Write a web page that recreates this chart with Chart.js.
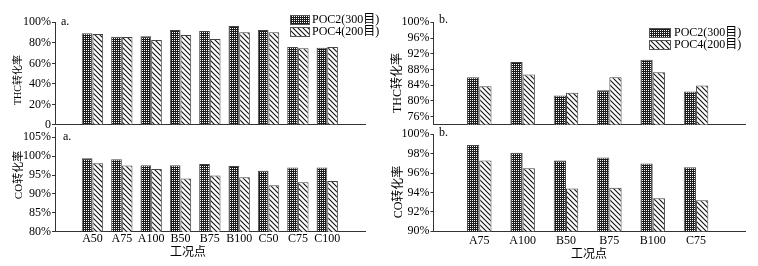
<!DOCTYPE html>
<html><head><meta charset="utf-8">
<script src="https://cdn.jsdelivr.net/npm/chart.js@4/dist/chart.umd.min.js"></script>
<style>
html,body{margin:0;padding:0;background:#fff;}
#wrap{position:relative;width:758px;height:266px;overflow:hidden;background:#fff;}
canvas{position:absolute;top:0;}
</style></head><body>
<div id="wrap">
<canvas id="c1" style="left:0"></canvas>
<canvas id="c2" style="left:0"></canvas>
<canvas id="c3" style="left:380px"></canvas>
<canvas id="c4" style="left:380px"></canvas>
</div>
<script>
// ---- data ----
const seriesNames = ['POC2(300目)', 'POC4(200目)'];
const catsA = ['A50','A75','A100','B50','B75','B100','C50','C75','C100'];
const thcA_poc2 = [89.3, 86.0, 86.4, 92.5, 91.5, 96.4, 92.5, 75.9, 75.3];
const thcA_poc4 = [88.6, 85.7, 82.8, 87.6, 83.7, 90.3, 90.3, 74.7, 75.9];
const coA_poc2  = [99.4, 99.15, 97.6, 97.6, 97.9, 97.4, 96.1, 97.0, 97.0];
const coA_poc4  = [98.1, 97.5, 96.6, 94.1, 94.9, 94.4, 92.3, 93.1, 93.4];
const catsB = ['A75','A100','B50','B75','B100','C75'];
const thcB_poc2 = [86.0, 89.9, 81.4, 82.7, 90.5, 82.4];
const thcB_poc4 = [83.7, 86.7, 82.1, 86.0, 87.3, 83.9];
const coB_poc2  = [98.9, 98.1, 97.3, 97.6, 97.0, 96.6];
const coB_poc4  = [97.3, 96.5, 94.4, 94.5, 93.4, 93.2];
const yTicksThcA = [0, 20, 40, 60, 80, 100];
const yTicksCoA  = [80, 85, 90, 95, 100, 105];
const yTicksThcB = [76, 80, 84, 88, 92, 96, 100];
const yTicksCoB  = [90, 92, 94, 96, 98, 100];
const yTitleThc = 'THC转化率';
const yTitleCo = 'CO转化率';
const xTitle = '工况点';

const FONT = "'Liberation Serif','Noto Sans CJK SC',serif";
const H = 266;

function makePatterns(ctx){
  const t1 = document.createElement('canvas'); t1.width = 4; t1.height = 4;
  const g1 = t1.getContext('2d');
  g1.fillStyle = '#1c1c1c'; g1.fillRect(0,0,4,4);
  g1.fillStyle = '#fff';
  [[0,0],[2,0],[0,2],[2,2]].forEach(p => g1.fillRect(p[0],p[1],1,1));
  const t2 = document.createElement('canvas'); t2.width = 5; t2.height = 5;
  const g2 = t2.getContext('2d');
  g2.fillStyle = '#fff'; g2.fillRect(0,0,5,5);
  g2.strokeStyle = '#111'; g2.lineWidth = 1.1;
  g2.beginPath();
  g2.moveTo(-1,-1); g2.lineTo(6,6);
  g2.moveTo(-1,4); g2.lineTo(1,6);
  g2.moveTo(4,-1); g2.lineTo(6,1);
  g2.stroke();
  return [ctx.createPattern(t1,'repeat'), ctx.createPattern(t2,'repeat')];
}

const overlay = {
  id: 'overlay',
  afterDraw(chart, args, o) {
    const ctx = chart.ctx;
    ctx.save();
    ctx.fillStyle = '#000';
    (o.texts || []).forEach(t => {
      ctx.save();
      ctx.font = t.font;
      ctx.textAlign = t.align || 'center';
      ctx.textBaseline = 'middle';
      ctx.translate(t.x, t.y);
      if (t.rot) ctx.rotate(t.rot);
      ctx.fillText(t.text, 0, 0);
      ctx.restore();
    });
    if (o.legend) {
      const L = o.legend;
      chart.data.datasets.forEach((ds, i) => {
        const y = L.y + i * L.dy;
        ctx.fillStyle = ds.backgroundColor;
        ctx.fillRect(L.x, y, L.w, L.h);
        ctx.strokeStyle = '#555'; ctx.lineWidth = 1;
        ctx.strokeRect(L.x + 0.5, y + 0.5, L.w - 1, L.h - 1);
        ctx.fillStyle = '#000';
        ctx.font = '12px ' + FONT;
        ctx.textAlign = 'left'; ctx.textBaseline = 'middle';
        ctx.fillText(ds.label, L.x + L.w + L.gap, y + L.h / 2);
      });
    }
    ctx.restore();
  }
};

function makeChart(id, cfg) {
  const canvas = document.getElementById(id);
  canvas.width = cfg.w; canvas.height = H;
  canvas.style.width = cfg.w + 'px'; canvas.style.height = H + 'px';
  const ctx = canvas.getContext('2d');
  const pats = makePatterns(ctx);
  return new Chart(ctx, {
    type: 'bar',
    data: {
      datasets: [
        { label: seriesNames[0], data: cfg.s1.map((v,i)=>({x:i,y:v})), backgroundColor: pats[0], borderColor: '#444', borderWidth: 1 },
        { label: seriesNames[1], data: cfg.s2.map((v,i)=>({x:i,y:v})), backgroundColor: pats[1], borderColor: '#444', borderWidth: 1 }
      ]
    },
    options: {
      responsive: false, animation: false, devicePixelRatio: 1,
      layout: { padding: { left: 0, right: cfg.w - cfg.right, top: cfg.top, bottom: 0 } },
      plugins: { legend: { display: false }, tooltip: { enabled: false }, overlay: { texts: cfg.texts, legend: cfg.legend } },
      datasets: { bar: { categoryPercentage: cfg.catPct, barPercentage: 1 } },
      scales: {
        x: {
          type: 'linear', min: cfg.xmin, max: cfg.xmax,
          afterFit: s => { s.height = H - cfg.bottom; },
          afterBuildTicks: s => { s.ticks = cfg.cats.map((c,i)=>({value:i})); },
          ticks: { display: cfg.showX, autoSkip: false, maxRotation: 0, padding: cfg.xPad, color: '#000',
                   font: { family: FONT, size: 12 }, callback: v => cfg.cats[v] },
          grid: { display: false, drawTicks: false },
          border: { display: true, color: '#333', width: 1 }
        },
        y: {
          min: cfg.ymin, max: cfg.ymax,
          afterFit: s => { s.width = cfg.left; },
          afterBuildTicks: s => { s.ticks = cfg.yticks.map(v=>({value:v})); },
          ticks: { color: '#000', padding: 1, autoSkip: false, font: { family: FONT, size: 12 },
                   callback: v => (v === 0 ? '0' : v + '%') },
          grid: { display: true, drawOnChartArea: false, drawTicks: true, tickLength: 3, color: '#333' },
          border: { display: true, color: '#333', width: 1 }
        }
      }
    },
    plugins: [overlay]
  });
}

const R90 = -Math.PI / 2;
makeChart('c1', {
  w: 380, left: 55, right: 365, top: 22.3, bottom: 125,
  cats: catsA, s1: thcA_poc2, s2: thcA_poc4, showX: false, xPad: 0,
  xmin: -0.69, xmax: 8.7, catPct: 0.727, ymin: 0, ymax: 100, yticks: yTicksThcA,
  texts: [
    { text: yTitleThc, x: 18, y: 80, rot: R90, font: '10px ' + FONT },
    { text: 'a.', x: 61, y: 22, align: 'left', font: '12px ' + FONT }
  ],
  legend: { x: 290, y: 15, dy: 12, w: 20, h: 10, gap: 2 }
});
makeChart('c2', {
  w: 380, left: 55, right: 365, top: 127, bottom: 231.7,
  cats: catsA, s1: coA_poc2, s2: coA_poc4, showX: true, xPad: 0,
  xmin: -0.69, xmax: 8.7, catPct: 0.727, ymin: 80, ymax: 107.7, yticks: yTicksCoA,
  texts: [
    { text: yTitleCo, x: 19, y: 175, rot: R90, font: '11px ' + FONT },
    { text: 'a.', x: 63, y: 137, align: 'left', font: '12px ' + FONT },
    { text: xTitle, x: 188, y: 253, font: '12px ' + FONT }
  ]
});
makeChart('c3', {
  w: 378, left: 53.5, right: 365, top: 22.3, bottom: 124.5,
  cats: catsB, s1: thcB_poc2, s2: thcB_poc4, showX: false, xPad: 0,
  xmin: -0.457, xmax: 5.53, catPct: 0.565, ymin: 74, ymax: 100, yticks: yTicksThcB,
  texts: [
    { text: yTitleThc, x: 18, y: 83, rot: R90, font: '12px ' + FONT },
    { text: 'b.', x: 59, y: 20, align: 'left', font: '12px ' + FONT }
  ],
  legend: { x: 269, y: 28, dy: 12, w: 22, h: 10, gap: 3 }
});
makeChart('c4', {
  w: 378, left: 53.5, right: 365, top: 134.3, bottom: 231.3,
  cats: catsB, s1: coB_poc2, s2: coB_poc4, showX: true, xPad: 2,
  xmin: -0.457, xmax: 5.53, catPct: 0.565, ymin: 90, ymax: 100, yticks: yTicksCoB,
  texts: [
    { text: yTitleCo, x: 19, y: 192, rot: R90, font: '12px ' + FONT },
    { text: 'b.', x: 59, y: 133, align: 'left', font: '12px ' + FONT },
    { text: xTitle, x: 209, y: 255, font: '12px ' + FONT }
  ]
});
</script>
</body></html>
